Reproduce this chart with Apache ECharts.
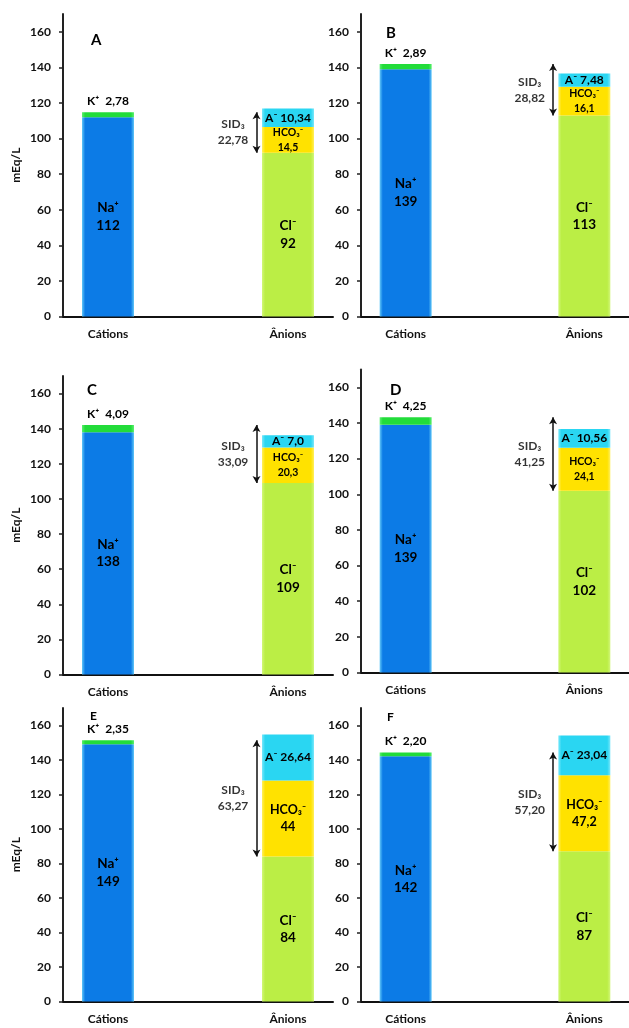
<!DOCTYPE html>
<html>
<head>
<meta charset="utf-8">
<script src="https://cdn.jsdelivr.net/npm/echarts@6/dist/echarts.min.js"></script>
<style>html,body{margin:0;padding:0;background:#fff}#c{width:629px;height:1028px}</style>
</head>
<body>
<div id="c"></div>
<script>
// ---- data ----
const panels = ['A', 'B', 'C', 'D', 'E', 'F'];
const categories = ['Cátions', '', 'Ânions'];
const naValues = [112, 139, 138, 139, 149, 142];
const kValues = [2.78, 2.89, 4.09, 4.25, 2.35, 2.20];
const clValues = [92, 113, 109, 102, 84, 87];
// bar heights as drawn in the picture (panel F's yellow block is drawn ~44 tall)
const hco3Values = [14.5, 16.1, 20.3, 24.1, 44, 44];
const hco3Text = ['14,5', '16,1', '20,3', '24,1', '44', '47,2'];
const aValues = [10.34, 7.48, 7.0, 10.56, 26.64, 23.04];
const aText = ['10,34', '7,48', '7,0', '10,56', '26,64', '23,04'];
const sidValues = [22.78, 28.82, 33.09, 41.25, 63.27, 57.20];
const yTicks = [0, 20, 40, 60, 80, 100, 120, 140, 160];

// ---- layout / style ----
const FONT = "Lato, 'Noto Sans', 'DejaVu Sans', sans-serif";
const grids = [
  {left: 63, top: 14, height: 302.5},
  {left: 361, top: 14, height: 302.5},
  {left: 63, top: 376, height: 298.5},
  {left: 361, top: 369.5, height: 303},
  {left: 63, top: 708, height: 293.5},
  {left: 361, top: 708, height: 293.5}
];
const GRID_W = 270;                 // 3 bands of 90 px
const BAND = GRID_W / categories.length;
const letterPos = [[86, 28, 15], [381, 21, 15], [82, 378, 15], [385, 378, 15], [85, 705, 12], [382, 706, 12]];
const ARROW_X = 2 - 31.5 / BAND;     // in band-index units
const SID_LABEL_X = ARROW_X - 23.5 / BAND;

function fmt(v, d) { return v.toFixed(d).replace('.', ','); }
function hgrad(edge, mid) {
  return {type: 'linear', x: 0, y: 0, x2: 1, y2: 0, colorStops: [
    {offset: 0, color: edge}, {offset: 0.06, color: mid}, {offset: 0.94, color: mid}, {offset: 1, color: edge}
  ]};
}
const colNa = hgrad('#62c8f8', '#0c7be6');
const colK = hgrad('#5cf070', '#22dc3a');
const colCl = hgrad('#d2f77a', '#bbee45');
const colHco3 = hgrad('#fff060', '#ffe200');
const colA = hgrad('#7ae8fb', '#2ad6f2');

const option = {
  animation: false,
  textStyle: {fontFamily: FONT},
  title: [], grid: [], xAxis: [], yAxis: [], series: []
};

panels.forEach((name, p) => {
  const g = grids[p];
  option.grid.push({left: g.left, top: g.top, width: GRID_W, height: g.height, containLabel: false});
  option.title.push({
    text: name, left: letterPos[p][0], top: letterPos[p][1],
    textStyle: {fontFamily: FONT, fontWeight: 'bold', fontSize: letterPos[p][2], color: '#000'}
  });
  // category axis for bars (index 2p)
  option.xAxis.push({
    type: 'category', gridIndex: p, data: categories, boundaryGap: true,
    splitLine: {show: false},
    axisLine: {show: true, onZero: false, lineStyle: {color: '#111', width: 2}},
    axisTick: {show: false},
    axisLabel: {interval: 0, margin: 12, fontFamily: FONT, fontWeight: 'bold', fontSize: 12, color: '#111'}
  });
  // hidden value axis matching band-index positions (index 2p+1), for annotations
  option.xAxis.push({
    type: 'value', gridIndex: p, min: -0.5, max: categories.length - 0.5, show: false
  });
  option.yAxis.push({
    type: 'value', gridIndex: p, min: 0, max: 170, interval: 20,
    name: p % 2 === 0 ? 'mEq/L' : '', nameLocation: 'middle', nameGap: 41,
    nameTextStyle: {fontFamily: FONT, fontWeight: 'bold', fontSize: 12, color: '#111'},
    splitLine: {show: false},
    axisLine: {show: true, onZero: false, lineStyle: {color: '#222', width: 2}},
    axisTick: {show: true, customValues: yTicks, length: 4, lineStyle: {color: '#222', width: 1.5}},
    axisLabel: {customValues: yTicks, margin: 12, fontFamily: FONT, fontWeight: 'bold', fontSize: 12, color: '#111'}
  });
  const stack = 'st' + p;
  const base = {type: 'bar', xAxisIndex: 2 * p, yAxisIndex: p, stack: stack, barWidth: 52};
  const lab = (size, extra) => Object.assign({show: true, fontFamily: FONT, fontWeight: 'bold', fontSize: size, color: '#000', textBorderWidth: 0, lineHeight: size + 4}, extra);
  const cationTotal = naValues[p] + kValues[p];
  option.series.push(Object.assign({}, base, {
    name: 'Na+', data: [naValues[p], 0, 0], itemStyle: {color: colNa},
    label: lab(13.5, {position: 'inside', formatter: q => q.value ? 'Na⁺\n' + naValues[p] : ''})
  }));
  option.series.push(Object.assign({}, base, {
    name: 'K+', data: [kValues[p], 0, 0], itemStyle: {color: colK},
    label: lab(12, {position: 'top', distance: 3, formatter: q => q.value ? 'K⁺  ' + fmt(kValues[p], 2) : ''})
  }));
  option.series.push(Object.assign({}, base, {
    name: 'Cl-', data: [0, 0, clValues[p]], itemStyle: {color: colCl},
    label: lab(13.5, {position: 'inside', formatter: q => q.value ? 'Cl⁻\n' + clValues[p] : ''})
  }));
  option.series.push(Object.assign({}, base, {
    name: 'HCO3-', data: [0, 0, hco3Values[p]], itemStyle: {color: colHco3},
    label: lab(p >= 4 ? 12.5 : 10.5, {position: 'inside', formatter: q => q.value ? 'HCO₃⁻\n' + hco3Text[p] : ''})
  }));
  option.series.push(Object.assign({}, base, {
    name: 'A-', data: [0, 0, aValues[p]], itemStyle: {color: colA},
    label: lab(12, {position: 'inside', formatter: q => q.value ? 'A⁻ ' + aText[p] : ''})
  }));
  option.series.push({
    type: 'scatter', xAxisIndex: 2 * p + 1, yAxisIndex: p, symbolSize: 0, silent: true,
    itemStyle: {color: '#000'},
    data: [[SID_LABEL_X, (clValues[p] + cationTotal) / 2]],
    label: lab(12, {position: 'inside', align: 'center', formatter: () => 'SID₃\n' + fmt(sidValues[p], 2)}),
    markLine: {
      silent: true, animation: false, symbol: ['arrow', 'arrow'], symbolSize: [6, 7],
      lineStyle: {color: '#111', width: 1.5, type: 'solid'}, label: {show: false},
      data: [[{coord: [ARROW_X, clValues[p]]}, {coord: [ARROW_X, cationTotal]}]]
    }
  });
});

const chart = echarts.init(document.getElementById('c'), null, {renderer: 'canvas'});
chart.setOption(option);
</script>
</body>
</html>
